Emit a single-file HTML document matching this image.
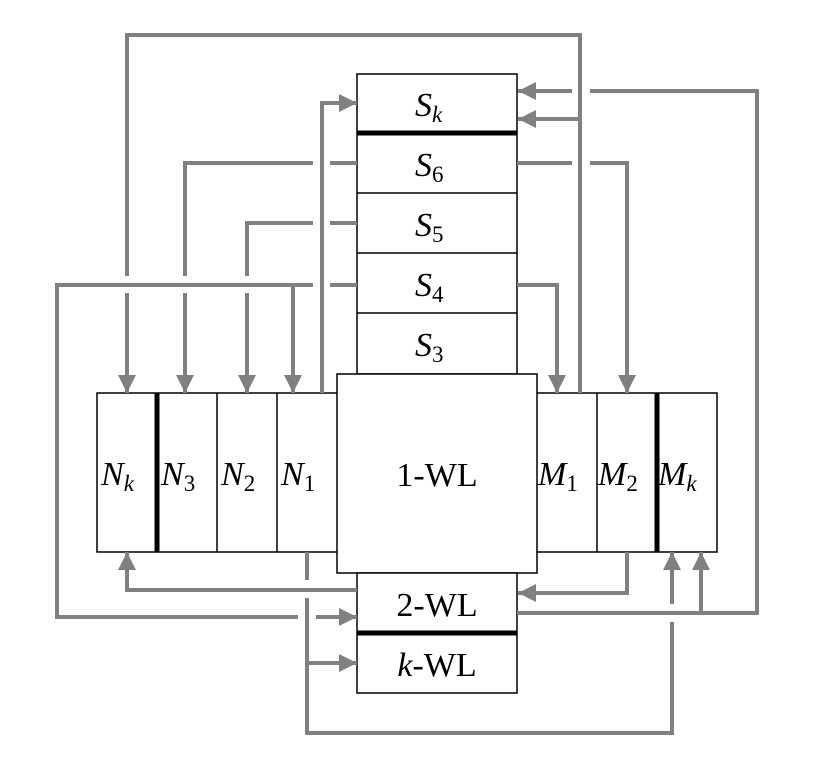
<!DOCTYPE html>
<html><head><meta charset="utf-8"><style>
html,body{margin:0;padding:0;background:#fff;}
svg{display:block;}
.l{stroke:#808080;stroke-width:4;fill:none;stroke-linejoin:miter;stroke-linecap:butt;}
.b{stroke:#000;stroke-width:1.5;fill:#fff;}
.t{font-family:"Liberation Serif",serif;font-size:34px;fill:#000;}
.i{font-style:italic;}
.s{font-size:23px;}
.n{font-style:normal;}
</style></head><body>
<svg width="822" height="762" viewBox="0 0 822 762" xmlns="http://www.w3.org/2000/svg">
<defs>
<marker id="a" markerUnits="userSpaceOnUse" markerWidth="20" markerHeight="20" refX="18" refY="10" orient="auto">
<path d="M0,1 L18,10 L0,19 Z" fill="#808080"/>
</marker>
</defs>

<rect class="b" x="357" y="74" width="160" height="300"/>
<line x1="357" y1="193" x2="517" y2="193" stroke="#000" stroke-width="1.5"/>
<line x1="357" y1="253" x2="517" y2="253" stroke="#000" stroke-width="1.5"/>
<line x1="357" y1="313" x2="517" y2="313" stroke="#000" stroke-width="1.5"/>
<line x1="357" y1="133" x2="517" y2="133" stroke="#000" stroke-width="5"/>

<rect class="b" x="97" y="393" width="620" height="159"/>
<line x1="217" y1="393" x2="217" y2="552" stroke="#000" stroke-width="1.5"/>
<line x1="277" y1="393" x2="277" y2="552" stroke="#000" stroke-width="1.5"/>
<line x1="597" y1="393" x2="597" y2="552" stroke="#000" stroke-width="1.5"/>
<line x1="157" y1="393" x2="157" y2="552" stroke="#000" stroke-width="5"/>
<line x1="657" y1="393" x2="657" y2="552" stroke="#000" stroke-width="5"/>

<rect class="b" x="337" y="374" width="200" height="199"/>
<rect class="b" x="357" y="573" width="160" height="120"/>
<line x1="357" y1="633" x2="517" y2="633" stroke="#000" stroke-width="5"/>

<path class="l" d="M580,393 V35 H127 V276"/>
<path class="l" d="M127,293 V393" marker-end="url(#a)"/>
<path class="l" d="M580,119 H518" marker-end="url(#a)"/>
<path class="l" d="M517,613 H757 V91 H590"/>
<path class="l" d="M572,91 H518" marker-end="url(#a)"/>
<path class="l" d="M517,163 H572"/>
<path class="l" d="M590,163 H627 V393" marker-end="url(#a)"/>
<path class="l" d="M517,285 H557 V393" marker-end="url(#a)"/>
<path class="l" d="M322,393 V103 H357" marker-end="url(#a)"/>
<path class="l" d="M357,163 H330"/>
<path class="l" d="M313,163 H185 V276"/>
<path class="l" d="M185,293 V393" marker-end="url(#a)"/>
<path class="l" d="M357,223 H330"/>
<path class="l" d="M313,223 H247 V276"/>
<path class="l" d="M247,293 V393" marker-end="url(#a)"/>
<path class="l" d="M357,285 H330"/>
<path class="l" d="M313,285 H57 V617 H298"/>
<path class="l" d="M293,285 V393" marker-end="url(#a)"/>
<path class="l" d="M316,617 H357" marker-end="url(#a)"/>
<path class="l" d="M357,590 H127 V552" marker-end="url(#a)"/>
<path class="l" d="M627,552 V593 H518" marker-end="url(#a)"/>
<path class="l" d="M701,613 V552" marker-end="url(#a)"/>
<path class="l" d="M307,552 V580"/>
<path class="l" d="M307,598 V733 H672 V622"/>
<path class="l" d="M672,604 V552" marker-end="url(#a)"/>
<path class="l" d="M307,663 H357" marker-end="url(#a)"/>

<text class="t i" x="415" y="116">S<tspan class="s" dy="6">k</tspan></text>
<text class="t i" x="415" y="176">S<tspan class="s n" dy="6">6</tspan></text>
<text class="t i" x="415" y="236">S<tspan class="s n" dy="6">5</tspan></text>
<text class="t i" x="415" y="296">S<tspan class="s n" dy="6">4</tspan></text>
<text class="t i" x="415" y="356">S<tspan class="s n" dy="6">3</tspan></text>

<text class="t i" x="101" y="485">N<tspan class="s" dy="6">k</tspan></text>
<text class="t i" x="161" y="485">N<tspan class="s n" dy="6">3</tspan></text>
<text class="t i" x="221" y="485">N<tspan class="s n" dy="6">2</tspan></text>
<text class="t i" x="281" y="485">N<tspan class="s n" dy="6">1</tspan></text>

<text class="t i" x="538" y="485">M<tspan class="s n" dy="6">1</tspan></text>
<text class="t i" x="598" y="485">M<tspan class="s n" dy="6">2</tspan></text>
<text class="t i" x="658" y="485">M<tspan class="s" dy="6">k</tspan></text>

<text class="t" x="437" y="486" text-anchor="middle">1-WL</text>
<text class="t" x="437" y="616" text-anchor="middle">2-WL</text>
<text class="t" x="437" y="676" text-anchor="middle"><tspan class="i">k</tspan>-WL</text>
</svg>
</body></html>
